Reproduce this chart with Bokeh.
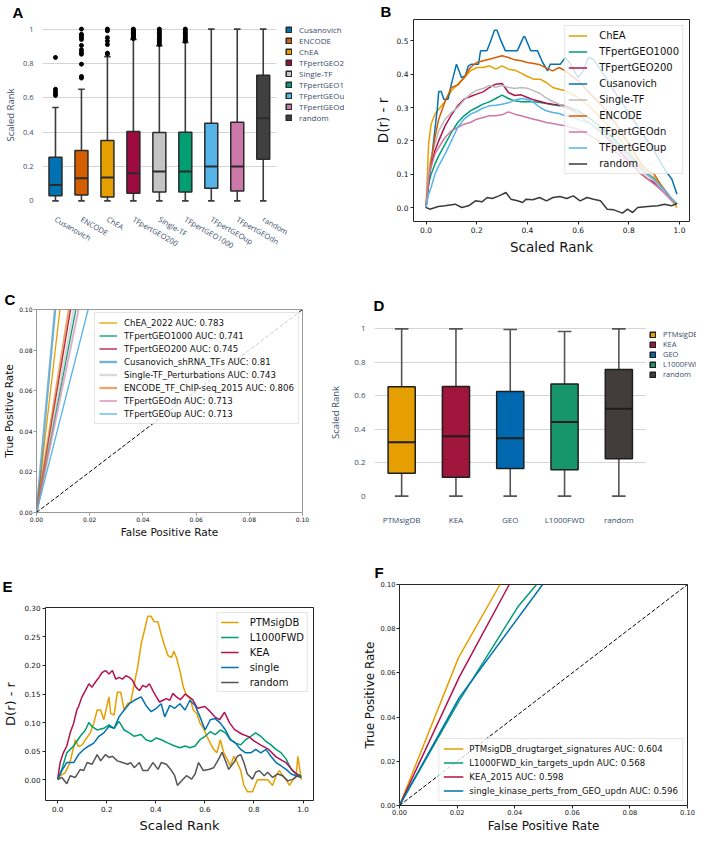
import math
from bokeh.plotting import figure
from bokeh.layouts import column, row
from bokeh.models import (Range1d, FixedTicker, CustomJSTickFormatter, PrintfTickFormatter,
                          BoxAnnotation, ColumnDataSource)
from bokeh.embed import file_html
from bokeh.resources import INLINE

PLOTLY_FONT = "Open Sans"
PLOTLY_TXT = "#3b4d6c"
MPL_FONT = "DejaVu Sans"

# ---------------- Panel A data (box plot, TF libraries) ----------------
tf_cats = ["Cusanovich", "ENCODE", "ChEA", "TFpertGEO200", "Single-TF",
           "TFpertGEO1000", "TFpertGEOup", "TFpertGEOdn", "random"]
tf_lo = [0.0, 0.0, 0.0, 0.0, 0.0, 0.0, 0.0, 0.0, 0.0]
tf_q1 = [0.03, 0.035, 0.023, 0.045, 0.052, 0.052, 0.074, 0.058, 0.243]
tf_med = [0.093, 0.132, 0.136, 0.161, 0.171, 0.171, 0.2, 0.2, 0.481]
tf_q3 = [0.254, 0.293, 0.351, 0.404, 0.398, 0.40, 0.452, 0.458, 0.732]
tf_hi = [0.544, 0.65, 0.84, 0.94, 0.903, 0.922, 1.0, 1.0, 1.0]
tf_colors = ["#0072B2", "#D55E00", "#E69F00", "#9E0B41", "#C4C4C4",
             "#009E73", "#56B4E9", "#CC79A7", "#404040"]
tf_out_cat = (["Cusanovich"] * 5 + ["ENCODE"] * 12 + ["ChEA"] * 7 +
              ["TFpertGEO200"] * 12 + ["Single-TF"] * 10 + ["TFpertGEO1000"] * 9)
tf_out_val = [0.835, 0.65, 0.636, 0.623, 0.614,
              1.0, 0.97, 0.96, 0.95, 0.94, 0.905, 0.88, 0.865, 0.854, 0.796, 0.724, 0.715,
              1.0, 0.99, 0.95, 0.93, 0.91, 0.86, 0.855,
              1.0, 0.995, 0.99, 0.985, 0.98, 0.975, 0.97, 0.965, 0.96, 0.955, 0.95, 0.945,
              1.0, 0.99, 0.98, 0.97, 0.96, 0.95, 0.94, 0.93, 0.92, 0.91,
              1.0, 0.99, 0.98, 0.97, 0.96, 0.95, 0.94, 0.935, 0.93]
box_yticks = [0, 0.2, 0.4, 0.6, 0.8, 1]
box_grid = [0.2, 0.4, 0.6, 0.8, 1]

# ---------------- Panel B data (D(r) - r curves, TF) ----------------
xb = [0.0, 0.01, 0.02, 0.035, 0.05, 0.075, 0.1, 0.125, 0.15, 0.175, 0.2, 0.225, 0.25,
      0.275, 0.3, 0.325, 0.35, 0.375, 0.4, 0.425, 0.45, 0.475, 0.5, 0.525, 0.55, 0.6,
      0.65, 0.7, 0.75, 0.8, 0.85, 0.875, 0.9, 0.925, 0.95, 0.97, 0.99]
b_chea = [0.0, 0.19, 0.25, 0.28, 0.295, 0.318, 0.35, 0.37, 0.388, 0.41, 0.42, 0.42, 0.425,
          0.415, 0.425, 0.415, 0.412, 0.403, 0.393, 0.385, 0.385, 0.375, 0.36, 0.355, 0.35,
          0.33, 0.30, 0.26, 0.22, 0.17, 0.12, 0.10, 0.09, 0.065, 0.04, 0.02, 0.0]
b_geo1000 = [0.0, 0.07, 0.10, 0.13, 0.155, 0.19, 0.225, 0.255, 0.275, 0.29, 0.30, 0.31, 0.317,
             0.327, 0.337, 0.327, 0.32, 0.317, 0.318, 0.317, 0.315, 0.312, 0.308, 0.305, 0.305,
             0.29, 0.265, 0.235, 0.20, 0.16, 0.115, 0.10, 0.085, 0.065, 0.04, 0.025, 0.01]
b_geo200 = [0.0, 0.09, 0.13, 0.17, 0.2, 0.245, 0.278, 0.305, 0.325, 0.333, 0.34, 0.347, 0.36,
            0.37, 0.372, 0.345, 0.336, 0.338, 0.33, 0.323, 0.318, 0.313, 0.31, 0.308, 0.305,
            0.28, 0.25, 0.22, 0.18, 0.14, 0.10, 0.085, 0.075, 0.055, 0.04, 0.025, 0.01]
b_single = [0.0, 0.11, 0.15, 0.19, 0.23, 0.265, 0.285, 0.30, 0.322, 0.34, 0.352, 0.357, 0.366,
            0.361, 0.366, 0.361, 0.357, 0.36, 0.358, 0.35, 0.342, 0.328, 0.318, 0.31, 0.30,
            0.28, 0.25, 0.22, 0.19, 0.15, 0.11, 0.095, 0.08, 0.06, 0.04, 0.025, 0.01]
b_encode = [0.0, 0.08, 0.14, 0.21, 0.265, 0.318, 0.36, 0.367, 0.39, 0.42, 0.435, 0.44, 0.445,
            0.45, 0.455, 0.45, 0.443, 0.44, 0.435, 0.432, 0.428, 0.418, 0.41, 0.42, 0.41,
            0.38, 0.34, 0.30, 0.25, 0.19, 0.13, 0.11, 0.10, 0.07, 0.045, 0.025, 0.01]
b_geodn = [0.0, 0.09, 0.12, 0.16, 0.18, 0.21, 0.23, 0.24, 0.25, 0.255, 0.265, 0.27, 0.275,
           0.275, 0.278, 0.287, 0.28, 0.275, 0.27, 0.265, 0.26, 0.255, 0.252, 0.248, 0.245,
           0.235, 0.215, 0.19, 0.165, 0.135, 0.10, 0.085, 0.07, 0.055, 0.035, 0.02, 0.01]
b_geoup = [0.0, 0.04, 0.06, 0.10, 0.125, 0.16, 0.20, 0.24, 0.265, 0.28, 0.288, 0.298, 0.305,
           0.307, 0.31, 0.314, 0.322, 0.327, 0.325, 0.315, 0.30, 0.29, 0.285, 0.282, 0.275,
           0.265, 0.25, 0.225, 0.195, 0.155, 0.115, 0.10, 0.085, 0.065, 0.045, 0.025, 0.01]
xb_cus = [0.0, 0.03, 0.045, 0.05, 0.06, 0.07, 0.087, 0.1, 0.12, 0.14, 0.155, 0.167, 0.18,
          0.207, 0.215, 0.24, 0.253, 0.27, 0.28, 0.293, 0.313, 0.36, 0.385, 0.39, 0.413,
          0.44, 0.46, 0.48, 0.49, 0.53, 0.55, 0.57, 0.6, 0.62, 0.64, 0.66, 0.7, 0.75, 0.8,
          0.85, 0.9, 0.93, 0.95, 0.97, 0.99]
b_cus = [0.0, 0.2, 0.3, 0.348, 0.348, 0.325, 0.325, 0.37, 0.43, 0.39, 0.395, 0.425, 0.43,
         0.43, 0.47, 0.47, 0.495, 0.532, 0.532, 0.505, 0.47, 0.47, 0.512, 0.512, 0.47,
         0.47, 0.435, 0.41, 0.43, 0.43, 0.45, 0.43, 0.39, 0.41, 0.45, 0.445, 0.40, 0.34,
         0.285, 0.225, 0.17, 0.13, 0.105, 0.085, 0.04]
xb_rand = [0.0, 0.015, 0.048, 0.075, 0.115, 0.141, 0.168, 0.195, 0.221, 0.241, 0.261, 0.288,
           0.315, 0.335, 0.361, 0.381, 0.395, 0.421, 0.448, 0.475, 0.501, 0.528, 0.555,
           0.581, 0.608, 0.635, 0.661, 0.688, 0.715, 0.741, 0.775, 0.795, 0.815, 0.835,
           0.875, 0.915, 0.941, 0.968, 0.99]
b_rand = [0.0, -0.005, 0.003, 0.005, 0.01, 0.0, 0.005, 0.02, 0.017, 0.03, 0.027, 0.035,
          0.045, 0.025, 0.02, 0.015, 0.025, 0.023, 0.03, 0.02, 0.03, 0.033, 0.027, 0.035,
          0.02, 0.03, 0.025, 0.02, -0.005, -0.007, -0.017, -0.005, -0.015, 0.0, 0.003,
          0.005, 0.01, 0.005, 0.012]
b_names = ["ChEA", "TFpertGEO1000", "TFpertGEO200", "Cusanovich", "Single-TF",
           "ENCODE", "TFpertGEOdn", "TFpertGEOup", "random"]
b_colors = ["#E69F00", "#009E73", "#B3124F", "#0072B2", "#BBBBBB",
            "#D55E00", "#CC79A7", "#56B4E9", "#3A3A3A"]
b_x = [xb, xb, xb, xb_cus, xb, xb, xb, xb, xb_rand]
b_y = [b_chea, b_geo1000, b_geo200, b_cus, b_single, b_encode, b_geodn, b_geoup, b_rand]
dr_xticks = [0.0, 0.2, 0.4, 0.6, 0.8, 1.0]
b_yticks = [0.0, 0.1, 0.2, 0.3, 0.4, 0.5]

# ---------------- Panel C data (ROC, TF) ----------------
c_names = ["ChEA_2022", "TFpertGEO1000", "TFpertGEO200", "Cusanovich_shRNA_TFs",
           "Single-TF_Perturbations", "ENCODE_TF_ChIP-seq_2015", "TFpertGEOdn", "TFpertGEOup"]
c_auc = ["0.783", "0.741", "0.745", "0.81", "0.743", "0.806", "0.713", "0.713"]
c_colors = ["#E69F00", "#009E73", "#B3124F", "#0072B2", "#BBBBBB", "#D55E00", "#CC79A7", "#56B4E9"]
c_alpha = [1.0, 1.0, 1.0, 0.55, 0.55, 0.55, 0.6, 1.0]
c_width = [1.3, 1.3, 1.3, 2.4, 2.4, 2.4, 2.0, 1.3]
c_fpr = [[0.0, 0.0088], [0.0, 0.0148], [0.0, 0.0128], [0.0, 0.0070],
         [0.0, 0.0140], [0.0, 0.0122], [0.0, 0.0158], [0.0, 0.0194]]
c_tpr = [[0.0, 0.1], [0.0, 0.1], [0.0, 0.1], [0.0, 0.1],
         [0.0, 0.1], [0.0, 0.1], [0.0, 0.1], [0.0, 0.1]]
chance = [0.0, 1.0]
roc_ticks = [0.0, 0.02, 0.04, 0.06, 0.08, 0.1]

# ---------------- Panel D data (box plot, kinase libraries) ----------------
kin_cats = ["PTMsigDB", "KEA", "GEO", "L1000FWD", "random"]
kin_lo = [0.0, 0.0, 0.0, 0.0, 0.0]
kin_q1 = [0.137, 0.113, 0.165, 0.157, 0.223]
kin_med = [0.322, 0.358, 0.346, 0.443, 0.523]
kin_q3 = [0.654, 0.656, 0.626, 0.67, 0.757]
kin_hi = [1.0, 1.0, 0.996, 0.984, 1.0]
kin_colors = ["#E69F00", "#A0163C", "#0068AE", "#16966A", "#423D3A"]

# ---------------- Panel E data (D(r) - r curves, kinase) ----------------
e_ptm_x = [0, 0.01, 0.03, 0.05, 0.072, 0.085, 0.1, 0.113, 0.133, 0.147, 0.161, 0.175, 0.188,
           0.209, 0.216, 0.23, 0.243, 0.257, 0.271, 0.285, 0.298, 0.312, 0.326, 0.34, 0.353,
           0.367, 0.381, 0.392, 0.409, 0.422, 0.436, 0.45, 0.464, 0.473, 0.484, 0.498, 0.512,
           0.525, 0.539, 0.553, 0.567, 0.58, 0.594, 0.608, 0.622, 0.636, 0.649, 0.663, 0.677,
           0.691, 0.704, 0.718, 0.732, 0.746, 0.759, 0.773, 0.794, 0.814, 0.835, 0.856, 0.876,
           0.89, 0.904, 0.917, 0.931, 0.945, 0.959, 0.972, 0.979, 0.993]
e_ptm_y = [0, 0.007, 0.012, 0.03, 0.07, 0.058, 0.061, 0.07, 0.082, 0.099, 0.122, 0.122, 0.105,
           0.145, 0.116, 0.113, 0.153, 0.153, 0.122, 0.133, 0.136, 0.168, 0.197, 0.237, 0.26,
           0.286, 0.286, 0.277, 0.276, 0.254, 0.234, 0.217, 0.214, 0.225, 0.214, 0.191, 0.162,
           0.148, 0.142, 0.122, 0.116, 0.099, 0.09, 0.076, 0.064, 0.053, 0.047, 0.07, 0.047,
           0.036, 0.024, 0.041, 0.03, 0.016, -0.01, -0.021, -0.021, 0, 0, 0, -0.01,
           0.007, 0.016, 0.007, 0, -0.01, 0, 0.007, 0.041, 0]
e_l1k_x = [0, 0.017, 0.037, 0.065, 0.092, 0.113, 0.127, 0.14, 0.161, 0.188, 0.209, 0.23, 0.25,
           0.271, 0.292, 0.312, 0.34, 0.36, 0.381, 0.402, 0.422, 0.45, 0.477, 0.498, 0.519,
           0.539, 0.56, 0.58, 0.601, 0.622, 0.642, 0.663, 0.684, 0.704, 0.725, 0.746, 0.766,
           0.787, 0.807, 0.828, 0.849, 0.869, 0.89, 0.911, 0.931, 0.952, 0.972, 0.993]
e_l1k_y = [0.001, 0.018, 0.047, 0.059, 0.076, 0.087, 0.1, 0.093, 0.087, 0.09, 0.096, 0.09, 0.102,
           0.087, 0.082, 0.076, 0.079, 0.07, 0.067, 0.073, 0.07, 0.064, 0.059, 0.056, 0.059,
           0.056, 0.059, 0.07, 0.076, 0.084, 0.079, 0.087, 0.082, 0.07, 0.064, 0.061, 0.07,
           0.076, 0.082, 0.076, 0.067, 0.061, 0.053, 0.047, 0.036, 0.018, 0.01, 0.007]
e_kea_x = [0, 0.01, 0.023, 0.037, 0.051, 0.065, 0.078, 0.085, 0.099, 0.113, 0.127, 0.14, 0.154,
           0.168, 0.182, 0.195, 0.209, 0.223, 0.237, 0.25, 0.264, 0.278, 0.292, 0.305, 0.319,
           0.333, 0.347, 0.36, 0.374, 0.388, 0.402, 0.415, 0.429, 0.443, 0.457, 0.47, 0.484,
           0.5, 0.52, 0.55, 0.57, 0.6, 0.62, 0.64, 0.66, 0.68, 0.7, 0.72, 0.75, 0.78, 0.8,
           0.83, 0.86, 0.89, 0.93, 0.96, 0.99]
e_kea_y = [0.001, 0.03, 0.047, 0.059, 0.082, 0.099, 0.122, 0.128, 0.145, 0.156, 0.168, 0.162,
           0.171, 0.179, 0.188, 0.191, 0.185, 0.191, 0.176, 0.179, 0.176, 0.182, 0.179, 0.174,
           0.162, 0.156, 0.165, 0.162, 0.168, 0.156, 0.145, 0.136, 0.139, 0.142, 0.139, 0.151,
           0.145, 0.14, 0.15, 0.14, 0.125, 0.128, 0.12, 0.11, 0.105, 0.118, 0.1, 0.088, 0.08,
           0.075, 0.068, 0.06, 0.053, 0.04, 0.03, 0.015, 0.005]
e_sgl_x = [0, 0.017, 0.037, 0.065, 0.085, 0.106, 0.127, 0.147, 0.168, 0.188, 0.209, 0.23, 0.25,
           0.271, 0.292, 0.312, 0.34, 0.36, 0.381, 0.402, 0.422, 0.436, 0.457, 0.477, 0.498,
           0.519, 0.539, 0.56, 0.58, 0.601, 0.622, 0.642, 0.663, 0.684, 0.704, 0.725, 0.746,
           0.766, 0.787, 0.807, 0.828, 0.849, 0.869, 0.89, 0.911, 0.931, 0.952, 0.972, 0.993]
e_sgl_y = [0.001, 0.016, 0.03, 0.03, 0.044, 0.053, 0.059, 0.064, 0.076, 0.082, 0.093, 0.09, 0.11,
           0.122, 0.133, 0.139, 0.145, 0.13, 0.119, 0.125, 0.133, 0.11, 0.13, 0.125, 0.133,
           0.122, 0.139, 0.13, 0.11, 0.087, 0.105, 0.107, 0.099, 0.087, 0.07, 0.064, 0.053,
           0.047, 0.047, 0.053, 0.047, 0.053, 0.041, 0.03, 0.024, 0.018, 0.01, 0.007, 0.004]
e_rnd_x = [0, 0.017, 0.037, 0.051, 0.072, 0.092, 0.106, 0.12, 0.14, 0.161, 0.175, 0.195, 0.209,
           0.223, 0.243, 0.264, 0.285, 0.298, 0.312, 0.333, 0.347, 0.367, 0.388, 0.409, 0.422,
           0.443, 0.464, 0.477, 0.488, 0.505, 0.525, 0.546, 0.56, 0.574, 0.594, 0.615, 0.636,
           0.656, 0.67, 0.684, 0.697, 0.718, 0.732, 0.746, 0.759, 0.773, 0.794, 0.807, 0.821,
           0.842, 0.856, 0.876, 0.897, 0.917, 0.938, 0.959, 0.979, 0.993]
e_rnd_y = [0, 0.004, -0.007, 0.007, 0.004, 0.018, 0.016, 0.03, 0.027, 0.044, 0.033, 0.044, 0.039,
           0.041, 0.033, 0.03, 0.027, 0.03, 0.021, 0.03, 0.016, 0.016, 0.03, 0.018, 0.03,
           0.027, 0.016, 0.007, -0.01, -0.002, 0.007, 0.001, 0.01, 0.03, 0.016, 0.018, 0.021,
           0.036, 0.048, 0.033, 0.018, 0.03, 0.041, 0.044, 0.03, 0.01, 0.001, 0.013, 0.016,
           0.007, 0.013, 0.004, 0.01, 0.007, -0.002, 0.001, 0.007, 0.004]
e_names = ["PTMsigDB", "L1000FWD", "KEA", "single", "random"]
e_colors = ["#E69F00", "#009E73", "#B3124F", "#0072B2", "#555555"]
e_x = [e_ptm_x, e_l1k_x, e_kea_x, e_sgl_x, e_rnd_x]
e_y = [e_ptm_y, e_l1k_y, e_kea_y, e_sgl_y, e_rnd_y]
e_yticks = [0.0, 0.05, 0.1, 0.15, 0.2, 0.25, 0.3]

# ---------------- Panel F data (ROC, kinase) ----------------
f_names = ["PTMsigDB_drugtarget_signatures", "L1000FWD_kin_targets_updn", "KEA_2015",
           "single_kinase_perts_from_GEO_updn"]
f_auc = ["0.604", "0.568", "0.598", "0.596"]
f_colors = ["#E69F00", "#009E73", "#B3124F", "#0072B2"]
f_fpr = [[0.0, 0.0205, 0.0349], [0.0, 0.0207, 0.0411, 0.0476], [0.0, 0.0207, 0.0381],
         [0.0, 0.0207, 0.0497]]
f_tpr = [[0.0, 0.0669, 0.1], [0.0, 0.0473, 0.0899, 0.1], [0.0, 0.058, 0.1],
         [0.0, 0.0487, 0.1]]


# ---------------- helpers ----------------
def letter(p, txt, offset, standoff):
    p.title.text = txt
    p.title.align = "left"
    p.title.offset = offset
    p.title.standoff = standoff
    p.title.text_font = "Liberation Sans"
    p.title.text_font_size = "15px"
    p.title.text_font_style = "bold"
    p.title.text_color = "black"


def plotly_style(p, tick_size, title_size, title_standoff):
    p.outline_line_color = None
    p.xgrid.visible = False
    p.ygrid.grid_line_color = "#d4d4d4"
    p.ygrid.ticker = FixedTicker(ticks=box_grid)
    p.yaxis.ticker = FixedTicker(ticks=box_yticks)
    p.yaxis.formatter = CustomJSTickFormatter(code="return String(tick);")
    p.axis.axis_line_color = None
    p.axis.major_tick_line_color = None
    p.axis.minor_tick_line_color = None
    p.axis.major_label_standoff = 3
    p.axis.major_label_text_font = PLOTLY_FONT
    p.axis.major_label_text_font_size = tick_size
    p.axis.major_label_text_color = PLOTLY_TXT
    p.axis.axis_label_text_font = PLOTLY_FONT
    p.axis.axis_label_text_font_size = title_size
    p.axis.axis_label_text_font_style = "normal"
    p.axis.axis_label_text_color = PLOTLY_TXT
    p.yaxis.axis_label_standoff = title_standoff


def plotly_box(p, cats, q1, med, q3, lo, hi, colors, box_line, whisk):
    pos = [i + 0.5 for i in range(len(cats))]
    # white cover so that the grid stops where the categories stop (legend area)
    p.add_layout(BoxAnnotation(left=len(cats), fill_color="white", fill_alpha=1.0,
                               line_color=None, level="underlay"))
    src = ColumnDataSource(dict(pos=pos, cat=cats, q1=q1, med=med, q3=q3, lo=lo, hi=hi,
                                color=colors))
    p.segment(x0="pos", y0="q3", x1="pos", y1="hi", source=src, line_color=whisk, line_width=1.6)
    p.segment(x0="pos", y0="lo", x1="pos", y1="q1", source=src, line_color=whisk, line_width=1.6)
    p.rect(x="pos", y="hi", width=0.25, height=1.6, height_units="screen", source=src,
           fill_color=whisk, line_color=None)
    p.rect(x="pos", y="lo", width=0.25, height=1.6, height_units="screen", source=src,
           fill_color=whisk, line_color=None)
    p.vbar(x="pos", bottom="q1", top="q3", width=0.5, source=src, fill_color="color",
           line_color=box_line, line_width=1.5, legend_field="cat")
    p.rect(x="pos", y="med", width=0.5, height=2, height_units="screen", source=src,
           fill_color=box_line, line_color=None)
    p.xaxis.ticker = FixedTicker(ticks=pos)
    p.xaxis.formatter = CustomJSTickFormatter(args=dict(names=cats),
                                              code="return names[Math.floor(tick)];")


def plotly_legend(p, loc, font_size):
    lg = p.legend[0]
    lg.location = loc
    lg.border_line_color = None
    lg.background_fill_alpha = 0
    lg.label_text_font = PLOTLY_FONT
    lg.label_text_font_size = font_size
    lg.label_text_color = PLOTLY_TXT
    lg.glyph_width = 7
    lg.glyph_height = 7
    lg.label_height = 9
    lg.spacing = 0
    lg.padding = 2
    lg.margin = 0
    lg.label_standoff = 7


def mpl_style(p, tick_size, title_size, xfmt, yfmt):
    p.outline_line_color = "#262626"
    p.outline_line_width = 1
    p.grid.visible = False
    p.axis.axis_line_color = None
    p.axis.major_tick_line_color = "#262626"
    p.axis.major_tick_out = 3
    p.axis.major_tick_in = 0
    p.axis.minor_tick_line_color = None
    p.axis.major_label_standoff = 2
    p.axis.major_label_text_font = MPL_FONT
    p.axis.major_label_text_font_size = tick_size
    p.axis.major_label_text_color = "#111111"
    p.axis.axis_label_text_font = MPL_FONT
    p.axis.axis_label_text_font_size = title_size
    p.axis.axis_label_text_font_style = "normal"
    p.axis.axis_label_text_color = "#111111"
    p.axis.axis_label_standoff = 3
    p.xaxis.formatter = PrintfTickFormatter(format=xfmt)
    p.yaxis.formatter = PrintfTickFormatter(format=yfmt)


def mpl_legend(p, loc, font_size, label_h, spacing, padding, glyph_w, standoff, margin):
    lg = p.legend[0]
    lg.location = loc
    lg.label_text_font = MPL_FONT
    lg.label_text_font_size = font_size
    lg.label_text_color = "#111111"
    lg.label_height = label_h
    lg.glyph_height = label_h
    lg.glyph_width = glyph_w
    lg.spacing = spacing
    lg.padding = padding
    lg.margin = margin
    lg.label_standoff = standoff
    lg.border_line_color = "#cccccc"
    lg.border_line_width = 1
    lg.background_fill_alpha = 0.8


COMMON = dict(output_backend="svg", toolbar_location=None)

# ---------------- Panel A ----------------
pA = figure(width=344, height=262, x_range=Range1d(0, 11.63),
            y_range=Range1d(-0.05, 1.05), min_border_left=30, min_border_right=0,
            min_border_top=20, min_border_bottom=53, **COMMON)
plotly_box(pA, tf_cats, tf_q1, tf_med, tf_q3, tf_lo, tf_hi, tf_colors, "#2a2a2a", "#3c3c3c")
tf_out_pos = [tf_cats.index(c) + 0.5 for c in tf_out_cat]
pA.scatter(x=tf_out_pos, y=tf_out_val, size=4, color="black")
plotly_style(pA, "7.5px", "9.5px", 3)
pA.yaxis.axis_label = "Scaled Rank"
pA.xaxis.major_label_orientation = -math.pi / 6
plotly_legend(pA, (243, 86), "8px")
letter(pA, "A", -30, 0)

# ---------------- Panel B ----------------
pB = figure(width=352, height=262, x_range=Range1d(-0.0495, 1.0395),
            y_range=Range1d(-0.042, 0.564), min_border_left=69, min_border_right=7,
            min_border_top=18, min_border_bottom=41, **COMMON)
for nm, xs, ys, col in zip(b_names, b_x, b_y, b_colors):
    pB.line(xs, ys, line_color=col, line_width=1.5, legend_label=nm)
mpl_style(pB, "7.5px", "13.5px", "%.1f", "%.1f")
pB.xaxis.ticker = FixedTicker(ticks=dr_xticks)
pB.yaxis.ticker = FixedTicker(ticks=b_yticks)
pB.xaxis.axis_label = "Scaled Rank"
pB.yaxis.axis_label = "D(r) - r"
mpl_legend(pB, "top_right", "10px", 13, 3, 3, 19, 12, 6)
letter(pB, "B", -33, 0)

# ---------------- Panel C ----------------
pC = figure(width=326, height=278, x_range=Range1d(0, 0.1), y_range=Range1d(0, 0.1),
            min_border_left=32, min_border_right=24, min_border_top=47, min_border_bottom=25,
            **COMMON)
for nm, auc, col, a, w, fx, ty in zip(c_names, c_auc, c_colors, c_alpha, c_width, c_fpr, c_tpr):
    pC.line(fx, ty, line_color=col, line_alpha=a, line_width=w, legend_label=nm + " AUC: " + auc)
pC.line(chance, chance, line_color="black", line_width=1, line_dash="4 2")
mpl_style(pC, "6px", "10.5px", "%.2f", "%.2f")
pC.axis.axis_label_standoff = 1
pC.axis.major_label_standoff = 1
pC.xaxis.ticker = FixedTicker(ticks=roc_ticks)
pC.yaxis.ticker = FixedTicker(ticks=roc_ticks)
pC.outline_line_color = "#999999"
pC.axis.major_tick_line_color = "#999999"
pC.xaxis.axis_label = "False Positive Rate"
pC.yaxis.axis_label = "True Positive Rate"
mpl_legend(pC, "top_right", "8.6px", 11, 2, 4, 18, 7, 3)
letter(pC, "C", -32, 3)

# ---------------- Panel D ----------------
pD = figure(width=370, height=278, x_range=Range1d(0, 5.93),
            y_range=Range1d(-0.05, 1.05), min_border_left=34, min_border_right=0,
            min_border_top=58, min_border_bottom=36, **COMMON)
plotly_box(pD, kin_cats, kin_q1, kin_med, kin_q3, kin_lo, kin_hi, kin_colors, "#1e1e1e", "#555555")
plotly_style(pD, "8px", "9.5px", 9)
pD.yaxis.axis_label = "Scaled Rank"
plotly_legend(pD, (275, 125), "7.5px")
letter(pD, "D", -1, 14)

# ---------------- Panel E ----------------
pE = figure(width=344, height=295, x_range=Range1d(-0.0497, 1.0427),
            y_range=Range1d(-0.0364, 0.3014), min_border_left=43, min_border_right=31,
            min_border_top=67, min_border_bottom=33, **COMMON)
for nm, xs, ys, col in zip(e_names, e_x, e_y, e_colors):
    pE.line(xs, ys, line_color=col, line_width=1.5, legend_label=nm)
mpl_style(pE, "7.2px", "13px", "%.1f", "%.2f")
pE.xaxis.ticker = FixedTicker(ticks=dr_xticks)
pE.yaxis.ticker = FixedTicker(ticks=e_yticks)
pE.xaxis.axis_label = "Scaled Rank"
pE.yaxis.axis_label = "D(r) - r"
mpl_legend(pE, "top_right", "10px", 12, 3, 3, 18, 11, 5)
letter(pE, "E", -43, 25)

# ---------------- Panel F ----------------
pF = figure(width=352, height=295, x_range=Range1d(0, 0.1), y_range=Range1d(0, 0.1),
            min_border_left=55, min_border_right=9, min_border_top=44, min_border_bottom=25,
            **COMMON)
for nm, auc, col, fx, ty in zip(f_names, f_auc, f_colors, f_fpr, f_tpr):
    pF.line(fx, ty, line_color=col, line_width=1.5, legend_label=nm + " AUC: " + auc)
pF.line(chance, chance, line_color="black", line_width=1, line_dash="4 2")
mpl_style(pF, "6.7px", "12px", "%.2f", "%.2f")
pF.axis.axis_label_standoff = 1
pF.axis.major_label_standoff = 1
pF.xaxis.ticker = FixedTicker(ticks=roc_ticks)
pF.yaxis.ticker = FixedTicker(ticks=roc_ticks)
pF.xaxis.axis_label = "False Positive Rate"
pF.yaxis.axis_label = "True Positive Rate"
mpl_legend(pF, "bottom_right", "8.6px", 11, 3, 4, 20, 6, 4)
letter(pF, "F", -25, 8)

# each figure wrapped in its own column so that frames in a row are not aligned
layout = column(row(column(pA), column(pB)),
                row(column(pC), column(pD)),
                row(column(pE), column(pF)))
open("out.html", "w").write(file_html(layout, INLINE))
